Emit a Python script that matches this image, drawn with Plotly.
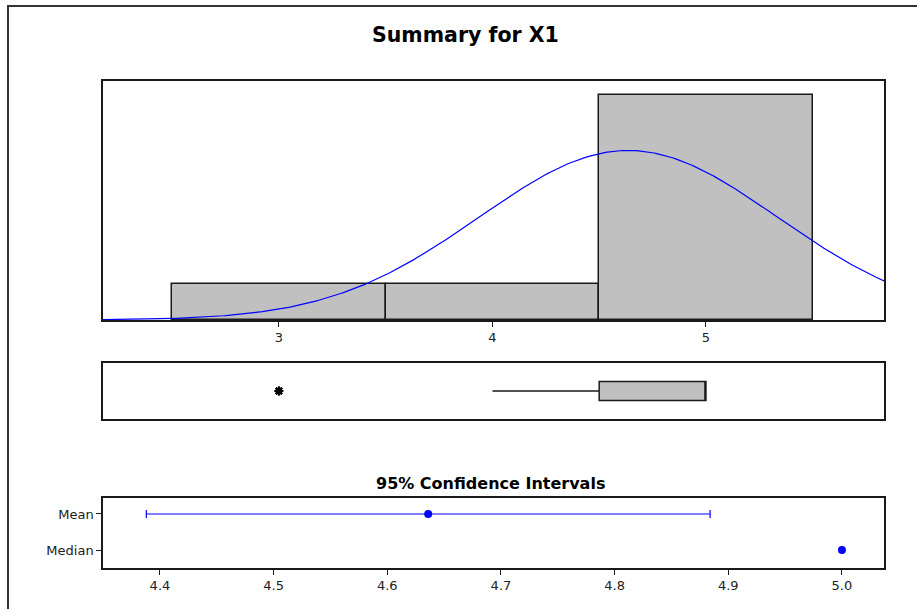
import numpy as np
import plotly.graph_objects as go

# ---- data ----
bin_centers = [3, 4, 5]
bin_counts = [4, 4, 25]
ci_labels = ["Mean", "Median"]
ci_lower = [4.388, 5.0]
ci_upper = [4.884, 5.0]
ci_point = [4.636, 5.0]
hist_ticks = [3, 4, 5]
ci_ticks = [4.4, 4.5, 4.6, 4.7, 4.8, 4.9, 5.0]

# raw observations reconstructed from bin counts (integer data)
values = np.repeat(bin_centers, bin_counts).astype(float)
n = len(values)
mu = values.mean()
sd = values.std(ddof=1)

W, H = 917, 609
L, R, T, B = 103, 33, 81, 41
pw, ph = W - L - R, H - T - B
def py(p):  # pixel y -> paper y
    return (H - B - p) / ph
def px(p):
    return (p - L) / pw

xr = [2.176, 5.834]
xs = np.linspace(xr[0], xr[1], 300)
curve = n * 1.0 * np.exp(-0.5 * ((xs - mu) / sd) ** 2) / (sd * np.sqrt(2 * np.pi))

LINE = "#1a1a1a"
FONT = "DejaVu Sans"
GRAY = "#c0c0c0"

fig = go.Figure()
fig.add_trace(go.Bar(x=bin_centers, y=bin_counts, width=[1] * len(bin_centers),
                     marker=dict(color=GRAY, line=dict(color=LINE, width=1.5)),
                     xaxis="x", yaxis="y", showlegend=False, hoverinfo="skip"))
fig.add_trace(go.Scatter(x=xs, y=curve, mode="lines",
                         line=dict(color="#0000ff", width=1.2),
                         xaxis="x", yaxis="y", showlegend=False))
fig.add_trace(go.Box(x=values, y=[0] * n, orientation="h", quartilemethod="exclusive",
                     boxpoints="outliers", jitter=0, pointpos=0, width=0.68,
                     whiskerwidth=0, fillcolor=GRAY,
                     line=dict(color=LINE, width=1.5),
                     marker=dict(symbol="asterisk-open", size=7, color="black",
                                 line=dict(color="black", width=2)),
                     xaxis="x2", yaxis="y2", showlegend=False))
# CI panel
ypos = [2, 1]
fig.add_trace(go.Scatter(
    x=ci_point, y=ypos, mode="markers",
    marker=dict(color="#0000ff", size=8),
    error_x=dict(type="data", symmetric=False,
                 array=[u - p for u, p in zip(ci_upper, ci_point)],
                 arrayminus=[p - l for l, p in zip(ci_lower, ci_point)],
                 color="#0000ff", thickness=1.2, width=4),
    xaxis="x3", yaxis="y3", showlegend=False))

axis_common = dict(showline=True, linecolor=LINE, linewidth=1.5, mirror=True,
                   showgrid=False, zeroline=False)

fig.update_layout(
    width=W, height=H,
    margin=dict(l=L, r=R, t=T, b=B),
    paper_bgcolor="white", plot_bgcolor="white",
    font=dict(family=FONT, size=13, color="#222"),
    bargap=0,
    xaxis=dict(domain=[0, 1], range=xr, anchor="y", tickvals=hist_ticks,
               ticks="outside", ticklen=5, tickcolor=LINE, **axis_common),
    yaxis=dict(domain=[py(320), 1.0], range=[0, 239 / 9], anchor="x",
               showticklabels=False, ticks="", **axis_common),
    xaxis2=dict(domain=[0, 1], range=xr, anchor="y2", showticklabels=False,
                ticks="", **axis_common),
    yaxis2=dict(domain=[py(419), py(363)], range=[-1, 1], anchor="x2",
                showticklabels=False, ticks="", **axis_common),
    xaxis3=dict(domain=[0, 1], range=[4.3499, 5.037], anchor="y3",
                tickvals=ci_ticks, tickformat=".1f", ticks="outside",
                ticklen=5, tickcolor=LINE, **axis_common),
    yaxis3=dict(domain=[0, py(498)], range=[0.5, 2.444], anchor="x3",
                tickvals=ypos, ticktext=ci_labels, ticks="outside", ticklen=5,
                tickcolor=LINE, **axis_common),
    annotations=[
        dict(text="<b>Summary for X1</b>", xref="paper", yref="paper",
             x=px(465), y=py(35), xanchor="center", yanchor="middle",
             showarrow=False, font=dict(family=FONT, size=20.5, color="black")),
        dict(text="<b>95% Confidence Intervals</b>", xref="paper", yref="paper",
             x=px(490), y=py(483), xanchor="center", yanchor="middle",
             showarrow=False, font=dict(family=FONT, size=16, color="black")),
    ],
    shapes=[dict(type="rect", xref="paper", yref="paper",
                 x0=px(8), x1=px(940), y0=py(640), y1=py(6),
                 line=dict(color="#333", width=2), layer="below")],
)

fig.write_html("out.html", config={"displayModeBar": False},
               post_script="document.body.style.margin='0px';")
